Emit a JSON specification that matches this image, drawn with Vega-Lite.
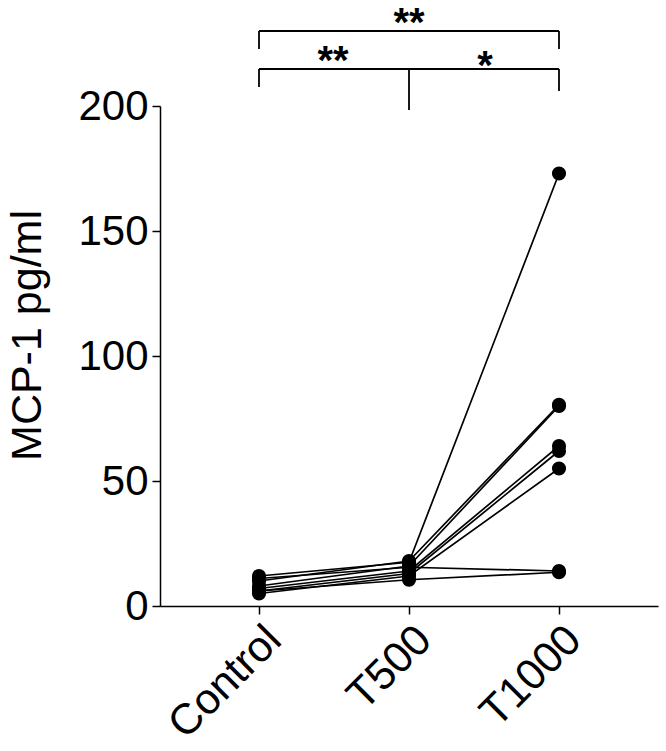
{
  "$schema": "https://vega.github.io/schema/vega-lite/v6.json",
  "width": 498,
  "height": 500,
  "autosize": {"type": "none"},
  "padding": {"left": 160, "top": 106, "right": 8, "bottom": 145},
  "background": "white",
  "config": {
    "view": {"stroke": null},
    "font": "Liberation Sans",
    "axis": {"grid": false, "domainColor": "black", "tickColor": "black", "labelColor": "black", "titleColor": "black", "domainWidth": 1.5, "tickWidth": 1.5, "labelFont": "Liberation Sans", "titleFont": "Liberation Sans"}
  },
  "datasets": {
    "subjects": [
      {"subject": "A", "group": "Control", "value": 12},
      {"subject": "A", "group": "T500", "value": 17.5},
      {"subject": "A", "group": "T1000", "value": 173},
      {"subject": "B", "group": "Control", "value": 10},
      {"subject": "B", "group": "T500", "value": 18},
      {"subject": "B", "group": "T1000", "value": 80.5},
      {"subject": "C", "group": "Control", "value": 8},
      {"subject": "C", "group": "T500", "value": 16},
      {"subject": "C", "group": "T1000", "value": 80},
      {"subject": "D", "group": "Control", "value": 7},
      {"subject": "D", "group": "T500", "value": 14},
      {"subject": "D", "group": "T1000", "value": 64},
      {"subject": "E", "group": "Control", "value": 6},
      {"subject": "E", "group": "T500", "value": 13},
      {"subject": "E", "group": "T1000", "value": 62},
      {"subject": "F", "group": "Control", "value": 5},
      {"subject": "F", "group": "T500", "value": 12},
      {"subject": "F", "group": "T1000", "value": 55},
      {"subject": "G", "group": "Control", "value": 11},
      {"subject": "G", "group": "T500", "value": 15.5},
      {"subject": "G", "group": "T1000", "value": 14},
      {"subject": "H", "group": "Control", "value": 6},
      {"subject": "H", "group": "T500", "value": 10.5},
      {"subject": "H", "group": "T1000", "value": 13.5}
    ],
    "hbars": [
      {"from": "Control", "to": "T1000", "y": 230},
      {"from": "Control", "to": "T1000", "y": 214.8}
    ],
    "vbars": [
      {"at": "Control", "y": 230, "y2": 222.8},
      {"at": "T1000", "y": 230, "y2": 222.8},
      {"at": "Control", "y": 214.8, "y2": 207.6},
      {"at": "T1000", "y": 214.8, "y2": 206},
      {"at": "T500", "y": 214.8, "y2": 198.4}
    ]
  },
  "layer": [
    {
      "data": {"name": "subjects"},
      "mark": {"type": "line", "color": "black", "strokeWidth": 1.7},
      "encoding": {
        "x": {"field": "group", "type": "ordinal", "sort": ["Control", "T500", "T1000"],
          "scale": {"type": "point", "domain": ["Control", "T500", "T1000"], "padding": 0.66},
          "axis": {"title": null, "labelAngle": -45, "labelFontSize": 43, "labelAlign": "right", "labelBaseline": "top", "tickSize": 8, "labelPadding": 4}},
        "y": {"field": "value", "type": "quantitative",
          "scale": {"domain": [0, 200], "nice": false, "zero": true},
          "axis": {"title": "MCP-1 pg/ml", "values": [0, 50, 100, 150, 200], "labelFontSize": 42, "titleFontSize": 43, "titleFontWeight": "normal", "tickSize": 8, "labelPadding": 4, "titlePadding": 28, "titleY": 229}},
        "detail": {"field": "subject"}
      }
    },
    {
      "data": {"name": "subjects"},
      "mark": {"type": "point", "filled": true, "color": "black", "size": 200, "opacity": 1},
      "encoding": {
        "x": {"field": "group", "type": "ordinal", "sort": ["Control", "T500", "T1000"]},
        "y": {"field": "value", "type": "quantitative"}
      }
    },
    {
      "data": {"name": "hbars"},
      "mark": {"type": "rule", "color": "black", "strokeWidth": 1.8, "clip": false},
      "encoding": {
        "x": {"field": "from", "type": "ordinal"},
        "x2": {"field": "to"},
        "y": {"field": "y", "type": "quantitative"}
      }
    },
    {
      "data": {"name": "vbars"},
      "mark": {"type": "rule", "color": "black", "strokeWidth": 1.8, "clip": false},
      "encoding": {
        "x": {"field": "at", "type": "ordinal"},
        "y": {"field": "y", "type": "quantitative"},
        "y2": {"field": "y2"}
      }
    },
    {
      "data": {"values": [{"at": "T500", "y": 228.2, "label": "**"}]},
      "mark": {"type": "text", "color": "black", "fontSize": 40, "fontWeight": "bold", "baseline": "alphabetic", "align": "center", "clip": false},
      "encoding": {
        "x": {"field": "at", "type": "ordinal"},
        "y": {"field": "y", "type": "quantitative"},
        "text": {"field": "label"}
      }
    },
    {
      "data": {"values": [{"at": "T500", "y": 213, "label": "**"}]},
      "mark": {"type": "text", "color": "black", "fontSize": 40, "fontWeight": "bold", "baseline": "alphabetic", "align": "center", "dx": -76, "clip": false},
      "encoding": {
        "x": {"field": "at", "type": "ordinal"},
        "y": {"field": "y", "type": "quantitative"},
        "text": {"field": "label"}
      }
    },
    {
      "data": {"values": [{"at": "T500", "y": 211, "label": "*"}]},
      "mark": {"type": "text", "color": "black", "fontSize": 40, "fontWeight": "bold", "baseline": "alphabetic", "align": "center", "dx": 76, "clip": false},
      "encoding": {
        "x": {"field": "at", "type": "ordinal"},
        "y": {"field": "y", "type": "quantitative"},
        "text": {"field": "label"}
      }
    }
  ]
}
